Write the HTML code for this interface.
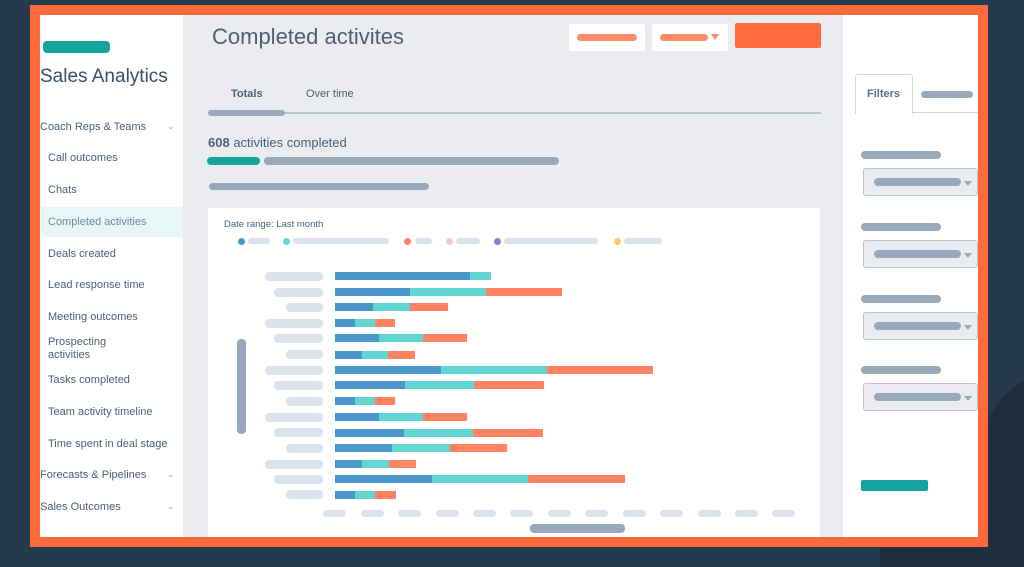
<!DOCTYPE html>
<html style="width:1024px;height:567px;overflow:hidden"><head><meta charset="utf-8"><style>
*{margin:0;padding:0;box-sizing:border-box}
body{width:1024px;height:567px;overflow:hidden;background:#253a4e;position:relative;font-family:"Liberation Sans",sans-serif}
.a{position:absolute}
.p{position:absolute;border-radius:4px}
.g{background:#97a9bb}
.l{background:#dde3ec}
.nav{position:absolute;left:48px;font-size:11px;color:#4a5f78}
.b{position:absolute;height:8px}
.B{background:#4a97cc}.T{background:#62d6d3}.O{background:#ff8363}
</style></head><body>
<svg class="a" style="left:0;top:0" width="1024" height="567"><path d="M880 567 L880 547 L988 547 L988 420 Q1000 395 1024 380 L1024 567 Z" fill="#1e2e3d"/></svg>
<div class="a" style="left:30px;top:5px;width:958px;height:542px;background:#fe6a3b"></div>
<div class="a" style="left:40px;top:15px;width:938px;height:522px;background:#eaecf0"></div>
<!-- sidebar -->
<div class="a" style="left:40px;top:15px;width:143px;height:522px;background:#fff"></div>
<div class="p" style="left:43px;top:41px;width:67px;height:12px;background:#13a49e"></div>
<div class="a" style="left:40px;top:66px;font-size:19px;color:#3b5068">Sales Analytics</div>
<div class="nav" style="left:40px;top:121px">Coach Reps &amp; Teams</div><div class="nav" style="left:167px;top:121px;font-size:9px;color:#7bb">⌄</div>
<div class="nav" style="top:152px">Call outcomes</div>
<div class="nav" style="top:184px">Chats</div>
<div class="a" style="left:41px;top:207px;width:142px;height:30px;background:#e8f6f8"></div>
<div class="nav" style="top:216px;color:#6a8aa0">Completed activities</div>
<div class="nav" style="top:248px">Deals created</div>
<div class="nav" style="top:279px">Lead response time</div>
<div class="nav" style="top:311px">Meeting outcomes</div>
<div class="nav" style="top:336px;line-height:13px">Prospecting<br>activities</div>
<div class="nav" style="top:374px">Tasks completed</div>
<div class="nav" style="top:406px">Team activity timeline</div>
<div class="nav" style="top:438px">Time spent in deal stage</div>
<div class="nav" style="left:40px;top:469px">Forecasts &amp; Pipelines</div><div class="nav" style="left:167px;top:469px;font-size:9px;color:#7bb">⌄</div>
<div class="nav" style="left:40px;top:501px">Sales Outcomes</div><div class="nav" style="left:167px;top:501px;font-size:9px;color:#7bb">⌄</div>
<!-- header -->
<div class="a" style="left:212px;top:24px;font-size:22px;color:#4b6076">Completed activites</div>
<div class="a" style="left:569px;top:24px;width:76px;height:27px;background:#fff;border-radius:2px"></div>
<div class="p" style="left:577px;top:34px;width:60px;height:7px;background:#ff8a68"></div>
<div class="a" style="left:652px;top:24px;width:76px;height:27px;background:#fff;border-radius:2px"></div>
<div class="p" style="left:660px;top:34px;width:48px;height:7px;background:#ff8a68"></div>
<div class="a" style="left:711px;top:34px;width:0;height:0;border-left:4px solid transparent;border-right:4px solid transparent;border-top:6px solid #ff8a68"></div>
<div class="a" style="left:735px;top:23px;width:86px;height:25px;background:#fe6a3b;border-radius:2px"></div>
<div class="a" style="left:231px;top:88px;font-size:11px;font-weight:bold;color:#4b6076">Totals</div>
<div class="a" style="left:306px;top:88px;font-size:11px;color:#4b6076">Over time</div>
<div class="a" style="left:208px;top:112px;width:613px;height:2px;background:#b8c5d2"></div>
<div class="p g" style="left:208px;top:110px;width:77px;height:6px"></div>
<div class="a" style="left:208px;top:135px;font-size:13px;color:#4b6076"><b>608</b> activities completed</div>
<div class="p" style="left:207px;top:157px;width:53px;height:8px;background:#13a49e"></div>
<div class="p g" style="left:264px;top:157px;width:295px;height:8px"></div>
<div class="p g" style="left:209px;top:183px;width:220px;height:7px"></div>
<!-- chart card -->
<div class="a" style="left:208px;top:208px;width:612px;height:329px;background:#fff"></div>
<div class="a" style="left:224px;top:219px;font-size:9.5px;color:#4b6076">Date range: Last month</div>
<div class="a" style="left:238px;top:238px;width:7px;height:7px;border-radius:50%;background:#4a97cc"></div><div class="p l" style="left:248px;top:238px;width:22px;height:6px"></div>
<div class="a" style="left:283px;top:238px;width:7px;height:7px;border-radius:50%;background:#62d6d3"></div><div class="p l" style="left:293px;top:238px;width:96px;height:6px"></div>
<div class="a" style="left:404px;top:238px;width:7px;height:7px;border-radius:50%;background:#ff8363"></div><div class="p l" style="left:415px;top:238px;width:17px;height:6px"></div>
<div class="a" style="left:446px;top:238px;width:7px;height:7px;border-radius:50%;background:#f9c6d6"></div><div class="p l" style="left:456px;top:238px;width:24px;height:6px"></div>
<div class="a" style="left:494px;top:238px;width:7px;height:7px;border-radius:50%;background:#8d7ed8"></div><div class="p l" style="left:504px;top:238px;width:94px;height:6px"></div>
<div class="a" style="left:614px;top:238px;width:7px;height:7px;border-radius:50%;background:#fcc96a"></div><div class="p l" style="left:624px;top:238px;width:38px;height:6px"></div>
<div class="p g" style="left:237px;top:339px;width:9px;height:95px"></div>
<!-- label pills -->
<div class="p l" style="left:265px;top:272px;width:58px;height:9px"></div>
<div class="p l" style="left:274px;top:288px;width:49px;height:9px"></div>
<div class="p l" style="left:286px;top:303px;width:37px;height:9px"></div>
<div class="p l" style="left:265px;top:319px;width:58px;height:9px"></div>
<div class="p l" style="left:274px;top:334px;width:49px;height:9px"></div>
<div class="p l" style="left:286px;top:350px;width:37px;height:9px"></div>
<div class="p l" style="left:265px;top:366px;width:58px;height:9px"></div>
<div class="p l" style="left:274px;top:381px;width:49px;height:9px"></div>
<div class="p l" style="left:286px;top:397px;width:37px;height:9px"></div>
<div class="p l" style="left:265px;top:413px;width:58px;height:9px"></div>
<div class="p l" style="left:274px;top:428px;width:49px;height:9px"></div>
<div class="p l" style="left:286px;top:444px;width:37px;height:9px"></div>
<div class="p l" style="left:265px;top:460px;width:58px;height:9px"></div>
<div class="p l" style="left:274px;top:475px;width:49px;height:9px"></div>
<div class="p l" style="left:286px;top:490px;width:37px;height:9px"></div>
<!-- bars -->
<div class="b B" style="left:335px;top:272px;width:135px"></div><div class="b T" style="left:470px;top:272px;width:21px"></div>
<div class="b B" style="left:335px;top:288px;width:75px"></div><div class="b T" style="left:410px;top:288px;width:76px"></div><div class="b O" style="left:486px;top:288px;width:76px"></div>
<div class="b B" style="left:335px;top:303px;width:38px"></div><div class="b T" style="left:373px;top:303px;width:37px"></div><div class="b O" style="left:410px;top:303px;width:38px"></div>
<div class="b B" style="left:335px;top:319px;width:20px"></div><div class="b T" style="left:355px;top:319px;width:20px"></div><div class="b O" style="left:375px;top:319px;width:20px"></div>
<div class="b B" style="left:335px;top:334px;width:44px"></div><div class="b T" style="left:379px;top:334px;width:44px"></div><div class="b O" style="left:423px;top:334px;width:44px"></div>
<div class="b B" style="left:335px;top:351px;width:27px"></div><div class="b T" style="left:362px;top:351px;width:26px"></div><div class="b O" style="left:388px;top:351px;width:27px"></div>
<div class="b B" style="left:335px;top:366px;width:106px"></div><div class="b T" style="left:441px;top:366px;width:106px"></div><div class="b O" style="left:547px;top:366px;width:106px"></div>
<div class="b B" style="left:335px;top:381px;width:70px"></div><div class="b T" style="left:405px;top:381px;width:69px"></div><div class="b O" style="left:474px;top:381px;width:70px"></div>
<div class="b B" style="left:335px;top:397px;width:20px"></div><div class="b T" style="left:355px;top:397px;width:20px"></div><div class="b O" style="left:375px;top:397px;width:20px"></div>
<div class="b B" style="left:335px;top:413px;width:44px"></div><div class="b T" style="left:379px;top:413px;width:44px"></div><div class="b O" style="left:423px;top:413px;width:44px"></div>
<div class="b B" style="left:335px;top:429px;width:69px"></div><div class="b T" style="left:404px;top:429px;width:69px"></div><div class="b O" style="left:473px;top:429px;width:70px"></div>
<div class="b B" style="left:335px;top:444px;width:57px"></div><div class="b T" style="left:392px;top:444px;width:58px"></div><div class="b O" style="left:450px;top:444px;width:57px"></div>
<div class="b B" style="left:335px;top:460px;width:27px"></div><div class="b T" style="left:362px;top:460px;width:27px"></div><div class="b O" style="left:389px;top:460px;width:27px"></div>
<div class="b B" style="left:335px;top:475px;width:97px"></div><div class="b T" style="left:432px;top:475px;width:96px"></div><div class="b O" style="left:528px;top:475px;width:97px"></div>
<div class="b B" style="left:335px;top:491px;width:20px"></div><div class="b T" style="left:355px;top:491px;width:20px"></div><div class="b O" style="left:375px;top:491px;width:21px"></div>
<!-- ticks -->
<div class="p l" style="left:323px;top:510px;width:23px;height:7px"></div>
<div class="p l" style="left:361px;top:510px;width:23px;height:7px"></div>
<div class="p l" style="left:398px;top:510px;width:23px;height:7px"></div>
<div class="p l" style="left:436px;top:510px;width:23px;height:7px"></div>
<div class="p l" style="left:473px;top:510px;width:23px;height:7px"></div>
<div class="p l" style="left:510px;top:510px;width:23px;height:7px"></div>
<div class="p l" style="left:548px;top:510px;width:23px;height:7px"></div>
<div class="p l" style="left:585px;top:510px;width:23px;height:7px"></div>
<div class="p l" style="left:623px;top:510px;width:23px;height:7px"></div>
<div class="p l" style="left:660px;top:510px;width:23px;height:7px"></div>
<div class="p l" style="left:698px;top:510px;width:23px;height:7px"></div>
<div class="p l" style="left:735px;top:510px;width:23px;height:7px"></div>
<div class="p l" style="left:772px;top:510px;width:23px;height:7px"></div>
<div class="p g" style="left:530px;top:524px;width:95px;height:9px"></div>
<!-- right panel -->
<div class="a" style="left:843px;top:15px;width:135px;height:522px;background:#fff"></div>
<div class="a" style="left:855px;top:112px;width:123px;height:1px;background:#cbd6e2"></div>
<div class="a" style="left:855px;top:74px;width:58px;height:40px;background:#fff;border:1px solid #cbd6e2;border-bottom:none;border-radius:3px 3px 0 0"></div>
<div class="a" style="left:867px;top:88px;font-size:11px;font-weight:bold;color:#5a7088">Filters</div>
<div class="p g" style="left:921px;top:91px;width:52px;height:7px"></div>
<div class="p g" style="left:861px;top:151px;width:80px;height:8px"></div>
<div class="a" style="left:863px;top:168px;width:115px;height:28px;background:#eaecf0;border:1px solid #b8c5d2;border-radius:3px"></div>
<div class="p g" style="left:874px;top:178px;width:87px;height:8px"></div>
<div class="p g" style="left:861px;top:223px;width:80px;height:8px"></div>
<div class="a" style="left:863px;top:240px;width:115px;height:28px;background:#eaecf0;border:1px solid #b8c5d2;border-radius:3px"></div>
<div class="p g" style="left:874px;top:250px;width:87px;height:8px"></div>
<div class="p g" style="left:861px;top:295px;width:80px;height:8px"></div>
<div class="a" style="left:863px;top:312px;width:115px;height:28px;background:#eaecf0;border:1px solid #b8c5d2;border-radius:3px"></div>
<div class="p g" style="left:874px;top:322px;width:87px;height:8px"></div>
<div class="p g" style="left:861px;top:366px;width:80px;height:8px"></div>
<div class="a" style="left:863px;top:383px;width:115px;height:28px;background:#eaecf0;border:1px solid #b8c5d2;border-radius:3px"></div>
<div class="p g" style="left:874px;top:393px;width:87px;height:8px"></div>
<div class="a" style="left:964px;top:181px;border-left:4px solid transparent;border-right:4px solid transparent;border-top:5px solid #97a9bb"></div>
<div class="a" style="left:964px;top:253px;border-left:4px solid transparent;border-right:4px solid transparent;border-top:5px solid #97a9bb"></div>
<div class="a" style="left:964px;top:325px;border-left:4px solid transparent;border-right:4px solid transparent;border-top:5px solid #97a9bb"></div>
<div class="a" style="left:964px;top:396px;border-left:4px solid transparent;border-right:4px solid transparent;border-top:5px solid #97a9bb"></div>
<div class="p" style="left:861px;top:480px;width:67px;height:11px;background:#13a49e;border-radius:2px"></div>
<div class="a" style="left:978px;top:15px;width:10px;height:532px;background:#fe6a3b"></div>
<div class="a" style="left:30px;top:537px;width:958px;height:10px;background:#fe6a3b"></div>
</body></html>
